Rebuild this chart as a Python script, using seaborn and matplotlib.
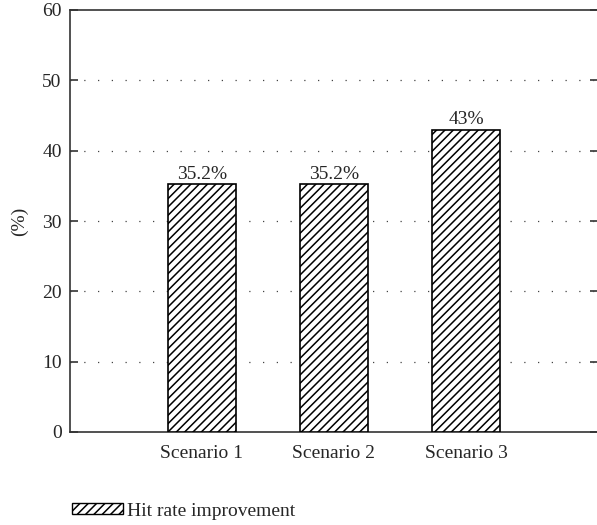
import matplotlib
matplotlib.use("Agg")
import matplotlib.pyplot as plt
import seaborn as sns
import pandas as pd
from matplotlib.patches import Patch

# Dados do gráfico
categorias = ["Scenario 1", "Scenario 2", "Scenario 3"]
valores = [35.2, 35.2, 43.0]
rotulos = ["35.2%", "35.2%", "43%"]
serie = "Hit rate improvement"

df = pd.DataFrame({"cenario": categorias, "valor": valores})

sns.set_style("white")
plt.rcParams["font.family"] = ["Liberation Serif", "DejaVu Serif"]
plt.rcParams["hatch.linewidth"] = 1.1

fs = 14

fig = plt.figure(figsize=(5.97, 5.25), dpi=100)
ax = fig.add_axes([70 / 597, 1 - 432 / 525, 528 / 597, 422 / 525])

sns.barplot(data=df, x="cenario", y="valor", order=categorias, ax=ax,
            color="white", edgecolor="black", linewidth=1.2, width=0.515,
            hatch="////", zorder=3)

for i, txt in enumerate(rotulos):
    ax.text(i, valores[i] + 0.2, txt, ha="center", va="bottom", fontsize=fs)

ax.set_xlim(-1, 3)
ax.set_ylim(0, 60)
ax.set_yticks(range(0, 70, 10))
ax.set_xlabel("")
ax.set_ylabel("(%)", fontsize=fs, labelpad=10)

for y in range(10, 60, 10):
    ax.axhline(y, color="#444444", linestyle=(0, (1, 10)), linewidth=0.9, zorder=1)

for s in ax.spines.values():
    s.set_color("#333333")
    s.set_linewidth(1.2)

ax.tick_params(axis="y", direction="in", left=True, right=True, length=6,
               width=1.2, labelsize=fs, pad=6, color="#333333")
ax.tick_params(axis="x", bottom=False, labelsize=fs, pad=6)

leg = fig.legend(handles=[Patch(facecolor="white", edgecolor="black", hatch="////", label=serie)],
                 loc="center left", bbox_to_anchor=(72 / 597, 1 - 511 / 525), frameon=False,
                 borderaxespad=0, borderpad=0,
                 fontsize=fs, handlelength=2.6, handleheight=0.5, handletextpad=0.25)

fig.savefig("out.png", dpi=100)
